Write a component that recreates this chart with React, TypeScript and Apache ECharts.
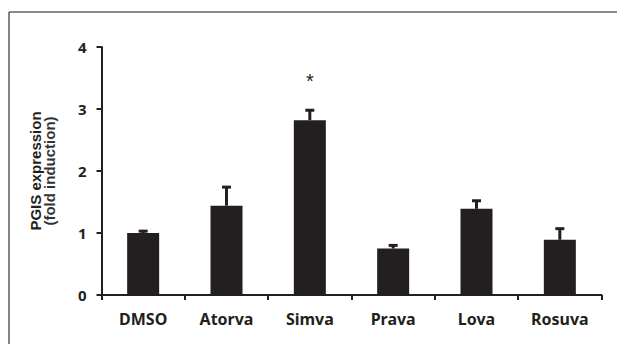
import React, { useEffect, useRef } from "react";
import * as echarts from "echarts";

const categories = ["DMSO", "Atorva", "Simva", "Prava", "Lova", "Rosuva"];
const means = [1.0, 1.44, 2.82, 0.75, 1.39, 0.89];
const errorTops = [1.03, 1.74, 2.98, 0.8, 1.52, 1.07];
const significance = ["", "", "*", "", "", ""];
const yTicks = [0, 1, 2, 3, 4];

const INK = "#231f20";

export default function App() {
  const ref = useRef<HTMLDivElement>(null);
  useEffect(() => {
    if (!ref.current) return;
    const chart = echarts.init(ref.current, null, { renderer: "svg" });
    const errData = categories.map((_, i) => [i, means[i], errorTops[i]]);
    const starData = categories.map((_, i) => [i, errorTops[i], significance[i]]);
    chart.setOption({
      animation: false,
      backgroundColor: "#fff",
      grid: { left: 101.5, right: 15.5, top: 47, bottom: 49, containLabel: false },
      graphic: [
        { type: "line", shape: { x1: 9, y1: 12, x2: 617, y2: 12 }, style: { stroke: "#8a8a8a", lineWidth: 2 } },
        { type: "line", shape: { x1: 9, y1: 12, x2: 9, y2: 344 }, style: { stroke: "#333", lineWidth: 1.2 } },
      ],
      xAxis: {
        type: "category",
        data: categories,
        axisLine: { show: true, lineStyle: { color: INK, width: 2 } },
        axisTick: { show: true, length: 5, lineStyle: { color: INK, width: 2 } },
        axisLabel: {
          color: INK,
          fontSize: 16,
          fontWeight: "bold",
          fontFamily: "Noto Sans",
          margin: 16,
        },
      },
      yAxis: {
        type: "value",
        min: yTicks[0],
        max: yTicks[yTicks.length - 1],
        interval: 1,
        splitLine: { show: false },
        axisLine: { show: true, lineStyle: { color: INK, width: 2 } },
        axisTick: { show: true, length: 5, lineStyle: { color: INK, width: 2 } },
        axisLabel: {
          color: INK,
          fontSize: 15,
          fontWeight: "bold",
          fontFamily: "Noto Sans",
          margin: 15,
        },
        name: "{a|PGIS expression}\n{b|(fold induction)}",
        nameLocation: "middle",
        nameGap: 45,
        nameTextStyle: {
          rich: {
            a: { fontSize: 15, fontWeight: "bold", fontFamily: "Liberation Sans", color: INK, lineHeight: 14 },
            b: { fontSize: 15, fontWeight: "bold", fontFamily: "Liberation Sans", color: "#333", lineHeight: 14 },
          },
        },
      },
      series: [
        {
          type: "bar",
          data: means,
          barWidth: 32,
          itemStyle: { color: INK },
        },
        {
          type: "custom",
          data: errData,
          z: 3,
          renderItem: (params: any, api: any) => {
            const i = api.value(0);
            const top = api.coord([i, api.value(2)]);
            const base = api.coord([i, api.value(1)]);
            const cap = 4.5;
            return {
              type: "group",
              children: [
                { type: "line", shape: { x1: top[0], y1: base[1], x2: top[0], y2: top[1] }, style: { stroke: INK, lineWidth: 3 } },
                { type: "line", shape: { x1: top[0] - cap, y1: top[1], x2: top[0] + cap, y2: top[1] }, style: { stroke: INK, lineWidth: 3 } },
              ],
            };
          },
        },
        {
          type: "custom",
          data: starData,
          z: 4,
          renderItem: (params: any, api: any) => {
            const i = params.dataIndex;
            const p = api.coord([api.value(0), api.value(1)]);
            return {
              type: "text",
              x: p[0],
              y: p[1] - 29,
              style: {
                text: significance[i],
                fill: INK,
                fontSize: 20,
                fontFamily: "Liberation Sans",
                align: "center",
                verticalAlign: "middle",
              },
            };
          },
        },
      ],
    });
    return () => chart.dispose();
  }, []);
  return <div ref={ref} style={{ position: "fixed", left: 0, top: 0, width: 617, height: 344 }} />;
}
